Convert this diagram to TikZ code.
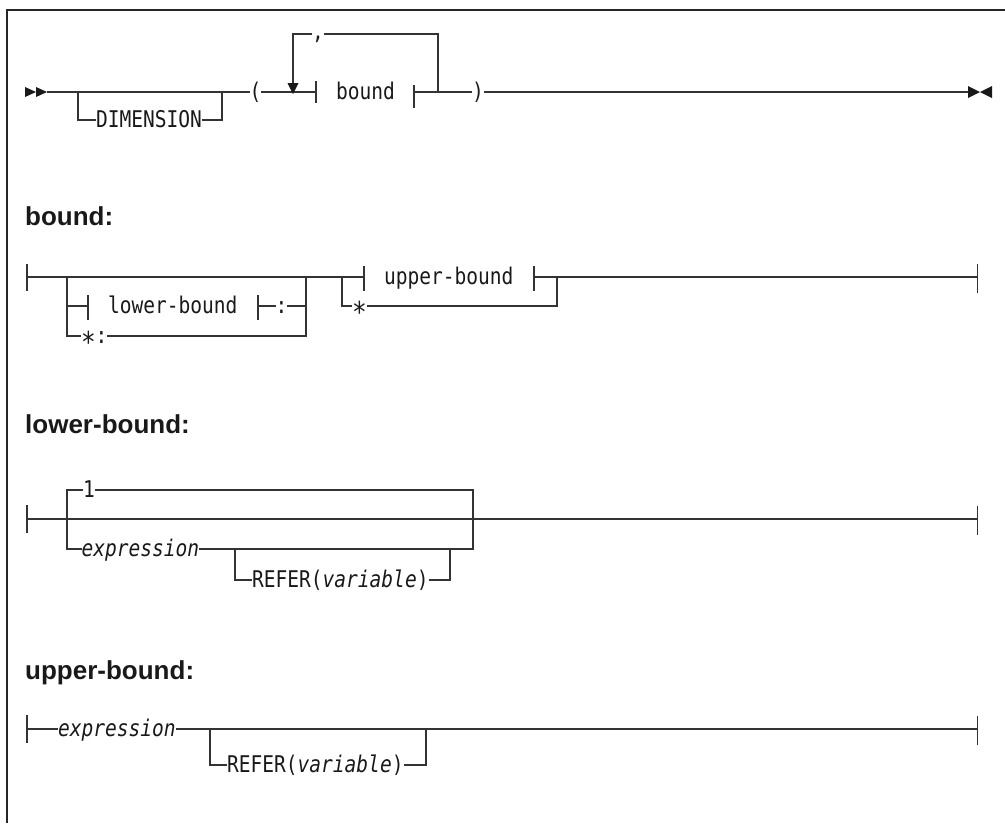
\documentclass[tikz,border=0pt]{standalone}
\usepackage{fontspec}
\newfontfamily\monofont[FakeStretch=0.85]{DejaVu Sans Mono}
\newfontfamily\headfont{Liberation Sans}
\newcommand\msz{\fontsize{23}{26}\selectfont}
\newcommand\lowstar{\raisebox{-9pt}{\scalebox{1.25}{*}}}
\begin{document}
\begin{tikzpicture}[x=1pt,y=-1pt,
  ln/.style={line width=1.4pt, draw=black!80},
  frame/.style={line width=1.8pt, draw=black!85},
  mono/.style={font=\monofont\msz, inner sep=0pt, outer sep=0pt, text height=15pt, text depth=0pt, anchor=west, text=black!90},
  monoit/.style={mono, font=\monofont\itshape\msz},
  head/.style={font=\headfont\bfseries\fontsize{26}{30}\selectfont, inner sep=0pt, anchor=base west, text=black!90},
  tri/.style={fill=black!90, draw=none},
]
\useasboundingbox (0,0) rectangle (1005,823);
\draw[frame] (7,823) -- (7,10) -- (1005,10);

% ---------------- top row ----------------
\fill[tri] (25,87) -- (36,92) -- (25,97) -- cycle;
\fill[tri] (36,87) -- (47,92) -- (36,97) -- cycle;
\coordinate (t0) at (47,92);
\coordinate (tj1) at (78,92);
\coordinate (tj2) at (222,92);
\node[mono] (dim) at (96,120) {DIMENSION};
\node[mono] (lp) at (249.5,92) {(};
\coordinate (tlb) at (316,92);
\node[mono] (bnd) at (336,92) {bound};
\coordinate (trb) at (414,92);
\coordinate (tjl) at (438,92);
\node[mono] (rp) at (472,92) {)};
\coordinate (tend) at (968,92);
\coordinate (ltop) at (438,34);
\coordinate (lleft) at (293,34);
\coordinate (arr) at (293,84);
\node[mono, anchor=center] (cm) at (318,32) {,};

\draw[ln] (t0) -- (lp.west);
\draw[ln] (tj1) |- (dim.west);
\draw[ln] (dim.east) -| (tj2);
\draw[ln] (lp.east) -- (tlb);
\draw[ln] (316,81) -- (316,103);
\draw[ln] (414,85) -- (414,108);
\draw[ln] (trb) -- (rp.west);
\draw[ln] (tjl) -- (ltop) -- (cm.east |- ltop);
\draw[ln] (cm.west |- ltop) -- (lleft) -- (arr);
\fill[tri] (287.5,83) -- (298.5,83) -- (293,94) -- cycle;
\draw[ln] (rp.east) -- (tend);
\fill[tri] (968,86) -- (980,92) -- (968,98) -- cycle;
\fill[tri] (992,86) -- (980,92) -- (992,98) -- cycle;

% ---------------- bound ----------------
\node[head] (hb) at (25,225) {bound:};
\coordinate (b0) at (27,277);
\coordinate (ba) at (67,277);
\coordinate (bam) at (67,306);
\coordinate (bb) at (306,277);
\coordinate (bc) at (342,277);
\coordinate (bu1) at (364,277);
\node[mono] (ubt) at (384,277) {upper-bound};
\coordinate (bu2) at (534,277);
\coordinate (bd) at (557,277);
\coordinate (be) at (977.5,277);
\draw[ln] (27,264) -- (27,291);
\draw[ln] (b0) -- (bu1);
\draw[ln] (364,266) -- (364,291);
\draw[ln] (534,266) -- (534,291);
\draw[ln] (bu2) -- (be);
\draw[ln] (977.5,264) -- (977.5,293);

\coordinate (bl1) at (88,306);
\node[mono] (lbt) at (108,306) {lower-bound};
\coordinate (bl2) at (258,306);
\node[mono] (col) at (275.5,306) {:};
\node[mono] (stc) at (81,336) {\lowstar:};
\draw[ln] (ba) -- (bam) |- (stc.west);
\draw[ln] (bam) -- (bl1);
\draw[ln] (88,295) -- (88,320);
\draw[ln] (258,295) -- (258,320);
\draw[ln] (bl2) -- (col.west);
\draw[ln] (col.east) -| (bb);
\draw[ln] (stc.east) -| (bb);

\node[mono] (st2) at (352,306) {\lowstar};
\draw[ln] (bc) |- (st2.west);
\draw[ln] (st2.east) -| (bd);

% ---------------- lower-bound ----------------
\node[head] (hl) at (25,433) {lower-bound:};
\coordinate (l0) at (27,519);
\coordinate (la) at (67,519);
\coordinate (lb) at (473,519);
\coordinate (le) at (977.5,519);
\draw[ln] (27,505) -- (27,533);
\draw[ln] (l0) -- (le);
\draw[ln] (977.5,506) -- (977.5,535);
\node[mono] (one) at (83,490) {1};
\node[monoit] (ex1) at (81.5,549) {expression};
\draw[ln] (one.west) -| (la);
\draw[ln] (la) |- (ex1.west);
\draw[ln] (one.east) -| (lb);
\draw[ln] (lb) |- (ex1.east);
\coordinate (lr1) at (235,549);
\coordinate (lr2) at (450,549);
\node[mono] (rf1) at (252,580) {REFER(\textit{variable})};
\draw[ln] (lr1) |- (rf1.west);
\draw[ln] (rf1.east) -| (lr2);

% ---------------- upper-bound ----------------
\node[head] (hu) at (25,679) {upper-bound:};
\coordinate (u0) at (27,729);
\node[monoit] (ex2) at (58,729) {expression};
\coordinate (ua) at (210,729);
\coordinate (ub) at (426,729);
\coordinate (ue) at (977.5,729);
\draw[ln] (27,715) -- (27,743);
\draw[ln] (u0) -- (ex2.west);
\draw[ln] (ex2.east) -- (ue);
\draw[ln] (977.5,716) -- (977.5,745);
\node[mono] (rf2) at (227,765) {REFER(\textit{variable})};
\draw[ln] (ua) |- (rf2.west);
\draw[ln] (rf2.east) -| (ub);
\end{tikzpicture}
\end{document}
